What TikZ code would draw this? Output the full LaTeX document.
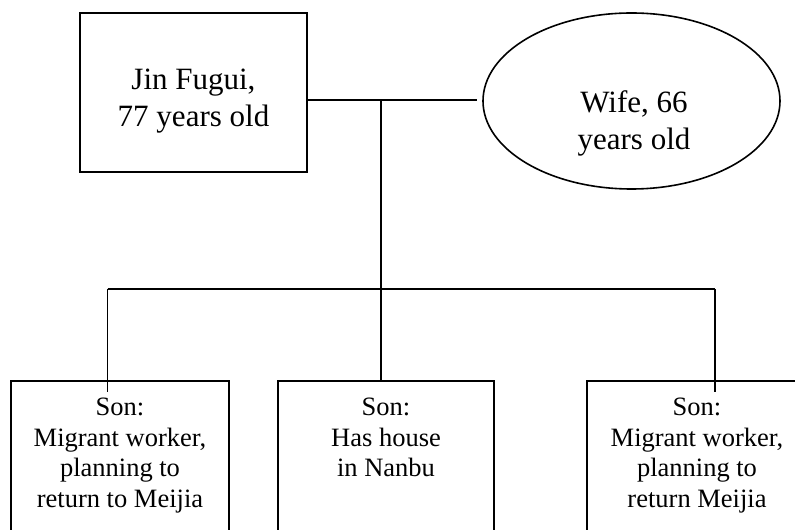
\documentclass[tikz,border=0pt]{standalone}
\usepackage{fontspec}
\setmainfont{Liberation Serif}
\usetikzlibrary{shapes.geometric}
\begin{document}
\begin{tikzpicture}[x=1pt,y=1pt,
  line width=1.6pt,
  personbox/.style={draw, rectangle, inner sep=0pt},
  spouse/.style={draw, ellipse, inner sep=0pt},
  % anchor=base sits on the baseline of the last line
  bigtext/.style={align=center, anchor=base, inner sep=0pt,
    font=\fontsize{31}{37}\selectfont},
  sontext/.style={align=center, anchor=base, inner sep=0pt,
    font=\fontsize{26.5}{30.5}\selectfont},
  link/.style={draw, line width=1.6pt}]
\useasboundingbox (0,0) rectangle (795,530);

% parents
\node[personbox, minimum width=227, minimum height=159] (jin) at (193.5,437.5) {};
\node[bigtext] (jintext) at (193.5,403) {Jin Fugui,\\77 years old};
\node[spouse, minimum width=297, minimum height=176] (wife) at (631.5,429) {};
\node[bigtext] (wifetext) at (634,380) {Wife, 66\\years old};

% sons (boxes run past the lower edge)
\node[personbox, minimum width=218, minimum height=170] (sonA) at (120,64) {};
\node[personbox, minimum width=216, minimum height=170] (sonB) at (386,64) {};
\node[personbox, minimum width=220, minimum height=170] (sonC) at (697,64) {};
\node[sontext] (sonAtext) at (120,23) {Son:\\Migrant worker,\\planning to\\return to Meijia};
\node[sontext] (sonBtext) at (386,53) {Son:\\Has house\\in Nanbu};
\node[sontext] (sonCtext) at (697,23) {Son:\\Migrant worker,\\planning to\\return Meijia};

% connectors
\coordinate (marriage) at (381,430);
\coordinate (bus) at (381,241);
\coordinate (busL) at (107.5,241);
\coordinate (busR) at (715,241);
\coordinate (dropA) at (107.5,138);
\coordinate (dropC) at (715,138);

\draw[link] (jin.east |- marriage) -- (marriage) -- ([xshift=-5]wife.west |- marriage);
\draw[link] (marriage) -- (bus) -- (sonB.north -| bus);
\draw[link] (busL) -- (busR);
\draw[link] (busL) -- (dropA);
\draw[link] (busR) -- (dropC);
\end{tikzpicture}
\end{document}
